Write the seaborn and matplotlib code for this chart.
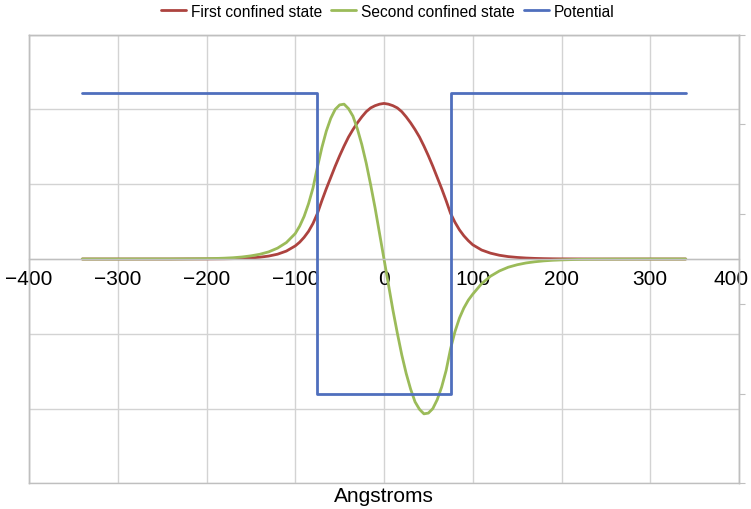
import matplotlib
matplotlib.use("Agg")
import matplotlib.pyplot as plt
from matplotlib.transforms import ScaledTranslation
import seaborn as sns
import pandas as pd

# Positions along the growth axis (Angstroms)
x_angstrom = [-340, -300, -260, -240, -220, -200, -190, -180, -170, -160,
              -150, -140, -130, -120, -110, -100, -95, -90, -85, -80,
              -75, -70, -65, -60, -55, -50, -45, -40, -35, -30,
              -25, -20, -15, -10, -5, 0, 5, 10, 15, 20,
              25, 30, 35, 40, 45, 50, 55, 60, 65, 70,
              75, 80, 85, 90, 95, 100, 110, 120, 130, 140,
              150, 160, 170, 180, 190, 200, 220, 240, 260, 300, 340]

# Ground state wavefunction (arbitrary units)
first_state = [0, 0, 0, 0, 0.001, 0.001, 0.002, 0.003, 0.005, 0.009,
               0.014, 0.024, 0.039, 0.064, 0.106, 0.175, 0.225, 0.29, 0.37, 0.475,
               0.61, 0.78, 0.94, 1.09, 1.24, 1.38, 1.51, 1.63, 1.73, 1.82,
               1.90, 1.97, 2.02, 2.05, 2.07, 2.08, 2.07, 2.05, 2.02, 1.97,
               1.90, 1.82, 1.73, 1.63, 1.51, 1.38, 1.24, 1.09, 0.94, 0.78,
               0.61, 0.49, 0.39, 0.31, 0.245, 0.19, 0.12, 0.078, 0.05, 0.032,
               0.021, 0.013, 0.008, 0.005, 0.003, 0.002, 0.001, 0, 0, 0, 0]

# First excited state wavefunction (arbitrary units)
second_state = [0, 0, 0.001, 0.001, 0.002, 0.0045, 0.007, 0.011, 0.017, 0.027,
                0.042, 0.063, 0.095, 0.145, 0.22, 0.34, 0.44, 0.57, 0.74, 0.95,
                1.23, 1.49, 1.71, 1.88, 2.00, 2.06, 2.07, 2.01, 1.91, 1.74,
                1.53, 1.28, 0.99, 0.68, 0.34, 0, -0.34, -0.68, -0.99, -1.28,
                -1.53, -1.74, -1.91, -2.01, -2.07, -2.06, -2.00, -1.88, -1.71, -1.49,
                -1.20, -0.97, -0.79, -0.655, -0.55, -0.47, -0.33, -0.23, -0.16, -0.11,
                -0.077, -0.053, -0.037, -0.025, -0.017, -0.012, -0.005, -0.002, -0.001, 0, 0]

# Square-well potential profile (eV)
potential_x = [-340, -75, -75, 75, 75, 340]
potential_v = [0.335, 0.335, 0.0, 0.0, 0.335, 0.335]

x_ticks = [-400, -300, -200, -100, 0, 100, 200, 300, 400]

RED = "#AD433F"
GREEN = "#9BBB59"
BLUE = "#4F6FBD"
GRID = "#D3D3D3"
FRAME = "#BFBFBF"

sns.set_theme(style="white")
plt.rcParams["font.family"] = ["Liberation Sans", "DejaVu Sans"]

states = pd.DataFrame({"x": x_angstrom, "first": first_state, "second": second_state})
well = pd.DataFrame({"x": potential_x, "v": potential_v})

fig = plt.figure(figsize=(7.51, 5.10), dpi=100)
ax = fig.add_axes([29 / 751, 1 - 484.4 / 510, 710 / 751, 448.8 / 510])

sns.lineplot(data=states, x="x", y="first", ax=ax, color=RED, lw=2.0,
             estimator=None, sort=False, label="First confined state")
sns.lineplot(data=states, x="x", y="second", ax=ax, color=GREEN, lw=2.0,
             estimator=None, sort=False, label="Second confined state")

ax.set_xlim(-400, 400)
ax.set_ylim(-3, 3)
ax.set_xticks(x_ticks)
ax.set_yticks(range(-3, 4))
ax.set_yticklabels([])
ax.set_xlabel("")
ax.set_ylabel("")
ax.grid(True, color=GRID, lw=1.0)
ax.set_axisbelow(True)
ax.tick_params(axis="y", length=0)
ax.tick_params(axis="x", length=0, pad=7, labelsize=15, colors="black")
ax.spines["bottom"].set_position(("data", 0))
for s in ax.spines.values():
    s.set_color(FRAME)
    s.set_linewidth(1.0)

# keep the rightmost tick label inside the figure
last_label = ax.get_xticklabels()[-1]
last_label.set_transform(last_label.get_transform()
                         + ScaledTranslation(-8 / 100, 0, fig.dpi_scale_trans))

ax2 = ax.twinx()
sns.lineplot(data=well, x="x", y="v", ax=ax2, color=BLUE, lw=2.0,
             estimator=None, sort=False, label="Potential")
ax2.set_ylim(-0.1, 0.4)
ax2.set_yticks([-0.1, 0.0, 0.1, 0.2, 0.3, 0.4])
ax2.set_ylabel("")
ax2.grid(False)
ax2.tick_params(axis="y", direction="out", length=4, width=0.8, color=FRAME,
                labelright=False, right=True)
for s in ax2.spines.values():
    s.set_color(FRAME)
    s.set_linewidth(1.0)

handles = ax.get_legend_handles_labels()[0] + ax2.get_legend_handles_labels()[0]
labels = ax.get_legend_handles_labels()[1] + ax2.get_legend_handles_labels()[1]
ax.get_legend().remove()
ax2.get_legend().remove()
fig.legend(handles, labels, loc="upper center", bbox_to_anchor=(0.516, 1.018),
           ncol=3, frameon=False, fontsize=11.2, handlelength=1.6,
           handletextpad=0.3, columnspacing=0.6, labelcolor="black")

ax.text(0.5, -0.006, "Angstroms", transform=ax.transAxes, ha="center", va="top",
        fontsize=15, color="black")

fig.savefig("out.png", dpi=100)
